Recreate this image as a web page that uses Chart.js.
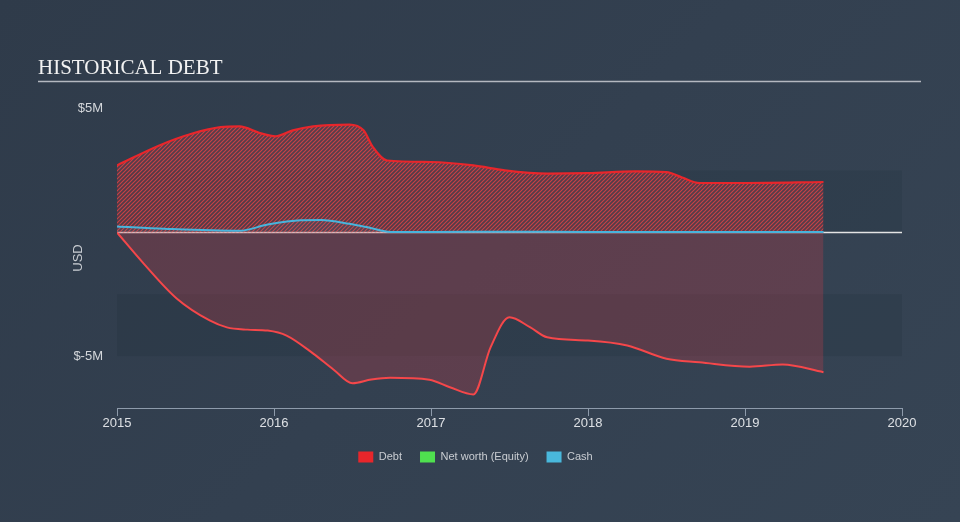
<!DOCTYPE html>
<html>
<head>
<meta charset="utf-8">
<script src="https://cdn.jsdelivr.net/npm/chart.js@4.4.1/dist/chart.umd.min.js"></script>
<style>
  html, body { margin: 0; padding: 0; }
  body { width: 960px; height: 522px; background: linear-gradient(135deg, #2f3b4a 0%, #334050 50%, #364454 100%); overflow: hidden; }
  #wrap { position: relative; width: 960px; height: 522px; }
</style>
</head>
<body>
<div id="wrap"><canvas id="c" width="960" height="522"></canvas></div>
<script>
// ---- Data (values in USD millions, x in fractional years) ----
const debtYears = [2015.0, 2015.27, 2015.48, 2015.66, 2015.78, 2015.91, 2016.01, 2016.12, 2016.25, 2016.48, 2016.57, 2016.63, 2016.72, 2017.0, 2017.27, 2017.47, 2017.74, 2018.0, 2018.3, 2018.5, 2018.6, 2018.71, 2019.0, 2019.5];
const debtValues = [2.71, 3.52, 4.0, 4.26, 4.29, 4.02, 3.89, 4.13, 4.29, 4.36, 4.13, 3.45, 2.91, 2.85, 2.71, 2.51, 2.38, 2.40, 2.47, 2.44, 2.22, 2.0, 2.0, 2.04];

const equityYears = [2015.0, 2015.17, 2015.38, 2015.59, 2015.70, 2015.83, 2015.96, 2016.08, 2016.25, 2016.38, 2016.5, 2016.62, 2016.74, 2016.99, 2017.12, 2017.27, 2017.38, 2017.5, 2017.63, 2017.74, 2018.0, 2018.25, 2018.5, 2018.71, 2019.03, 2019.24, 2019.5];
const equityValues = [0, -1.26, -2.67, -3.56, -3.84, -3.93, -3.97, -4.17, -4.9, -5.55, -6.1, -5.95, -5.88, -5.96, -6.26, -6.55, -4.64, -3.43, -3.83, -4.24, -4.37, -4.57, -5.11, -5.25, -5.43, -5.34, -5.65];

const cashYears = [2015.0, 2015.3, 2015.78, 2015.96, 2016.17, 2016.3, 2016.48, 2016.61, 2016.74, 2017.0, 2017.5, 2018.0, 2018.5, 2019.0, 2019.5];
const cashValues = [0.24, 0.15, 0.07, 0.32, 0.49, 0.5, 0.35, 0.19, 0.02, 0.02, 0.03, 0.02, 0.02, 0.02, 0.02];

const seriesNames = ['Debt', 'Net worth (Equity)', 'Cash'];
const legendColors = ['#e8262b', '#4fe04f', '#49b8dc'];
const xTickYears = [2015, 2016, 2017, 2018, 2019, 2020];
const yTickValues = [-5, 5];
const bandRanges = [[0, 2.5], [-5, -2.5]];

// ---- helpers ----
function toPoints(xs, ys) { return xs.map((x, i) => ({ x: x, y: ys[i] })); }

function makeHatch() {
  const s = 4;
  const pc = document.createElement('canvas');
  pc.width = s; pc.height = s;
  const g = pc.getContext('2d');
  g.fillStyle = 'rgba(170,60,70,0.30)';
  g.fillRect(0, 0, s, s);
  g.strokeStyle = 'rgba(240,70,70,0.75)';
  g.lineWidth = 1.1;
  g.beginPath();
  g.moveTo(0, s); g.lineTo(s, 0);
  g.moveTo(-1, 1); g.lineTo(1, -1);
  g.moveTo(s - 1, s + 1); g.lineTo(s + 1, s - 1);
  g.stroke();
  return document.getElementById('c').getContext('2d').createPattern(pc, 'repeat');
}

const decorPlugin = {
  id: 'decor',
  beforeDatasetsDraw(chart) {
    const ctx = chart.ctx, a = chart.chartArea, y = chart.scales.y;
    ctx.save();
    // bands
    ctx.fillStyle = 'rgba(20,30,45,0.12)';
    bandRanges.forEach(r => {
      const t = y.getPixelForValue(r[1]), b = y.getPixelForValue(r[0]);
      ctx.fillRect(a.left, t, a.right - a.left, b - t);
    });
    // zero line
    const z = y.getPixelForValue(0);
    ctx.strokeStyle = '#e4e4e4';
    ctx.lineWidth = 1.4;
    ctx.beginPath(); ctx.moveTo(a.left, z); ctx.lineTo(a.right, z); ctx.stroke();
    ctx.restore();
  },
  afterDraw(chart) {
    const ctx = chart.ctx;
    ctx.save();
    ctx.fillStyle = '#f2f2f2';
    ctx.font = '21px "Liberation Serif", "Times New Roman", serif';
    ctx.textBaseline = 'alphabetic';
    ctx.textAlign = 'left';
    ctx.fillText('HISTORICAL DEBT', 38, 74);
    ctx.strokeStyle = '#b4b8c0';
    ctx.lineWidth = 1.5;
    ctx.beginPath(); ctx.moveTo(38, 81.5); ctx.lineTo(921, 81.5); ctx.stroke();
    // axis unit label
    ctx.translate(78, 258);
    ctx.rotate(-Math.PI / 2);
    ctx.fillStyle = '#c9cdd2';
    ctx.font = '13px "Liberation Sans", Arial, sans-serif';
    ctx.textAlign = 'center';
    ctx.textBaseline = 'middle';
    ctx.fillText('USD', 0, 0);
    ctx.restore();
  }
};

const hatch = makeHatch();

new Chart(document.getElementById('c'), {
  type: 'line',
  data: {
    datasets: [
      {
        label: seriesNames[0],
        data: toPoints(debtYears, debtValues),
        borderColor: '#e8262b',
        borderWidth: 2.2,
        backgroundColor: hatch,
        fill: 'origin',
        pointRadius: 0,
        cubicInterpolationMode: 'monotone',
        order: 2
      },
      {
        label: seriesNames[1],
        data: toPoints(equityYears, equityValues),
        borderColor: '#f5474a',
        borderWidth: 2,
        backgroundColor: 'rgba(230,60,72,0.24)',
        fill: 'origin',
        pointRadius: 0,
        cubicInterpolationMode: 'monotone',
        order: 1
      },
      {
        label: seriesNames[2],
        data: toPoints(cashYears, cashValues),
        borderColor: '#49b4dc',
        borderWidth: 2,
        backgroundColor: 'rgba(73,180,220,0.08)',
        fill: 'origin',
        pointRadius: 0,
        cubicInterpolationMode: 'monotone',
        order: 0
      }
    ]
  },
  options: {
    responsive: false,
    animation: false,
    devicePixelRatio: 1,
    layout: { padding: { left: 49, right: 58, top: 94, bottom: 49.5 } },
    scales: {
      x: {
        type: 'linear',
        min: xTickYears[0],
        max: xTickYears[xTickYears.length - 1],
        afterBuildTicks(scale) { scale.ticks = xTickYears.map(v => ({ value: v })); },
        afterFit(scale) { scale.height = 25.5; },
        border: { display: true, color: '#8e9bab', width: 1 },
        grid: { display: true, drawOnChartArea: false, drawTicks: true, tickLength: 8, color: '#8e9bab', lineWidth: 1 },
        ticks: {
          color: '#dde0e4',
          padding: 0,
          maxRotation: 0,
          font: { family: '"Liberation Sans", Arial, sans-serif', size: 13 },
          callback: v => String(v)
        }
      },
      y: {
        type: 'linear',
        min: -7.1,
        max: 5.6,
        afterBuildTicks(scale) { scale.ticks = yTickValues.map(v => ({ value: v })); },
        afterFit(scale) { scale.width = 68; },
        border: { display: false },
        grid: { display: false, drawTicks: false },
        ticks: {
          color: '#d4d7db',
          padding: 14,
          font: { family: '"Liberation Sans", Arial, sans-serif', size: 13 },
          callback: v => '$' + v + 'M'
        }
      }
    },
    plugins: {
      title: { display: false },
      tooltip: { enabled: false },
      legend: {
        display: true,
        position: 'bottom',
        labels: {
          boxWidth: 15,
          boxHeight: 11,
          padding: 18,
          color: '#c9cdd2',
          font: { family: '"Liberation Sans", Arial, sans-serif', size: 11 },
          generateLabels(chart) {
            return seriesNames.map((n, i) => ({
              text: n,
              fillStyle: legendColors[i],
              strokeStyle: legendColors[i],
              lineWidth: 0,
              hidden: false,
              datasetIndex: i,
              fontColor: '#c9cdd2'
            }));
          }
        }
      }
    }
  },
  plugins: [decorPlugin]
});
</script>
</body>
</html>
